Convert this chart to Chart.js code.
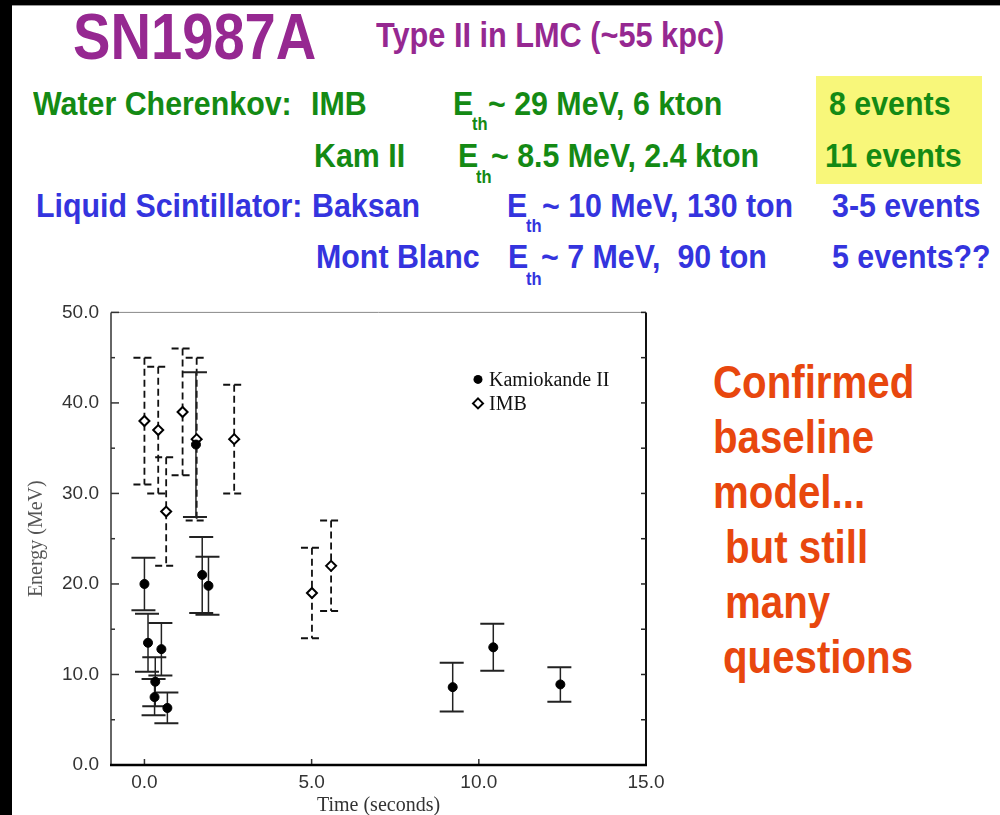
<!DOCTYPE html>
<html>
<head>
<meta charset="utf-8">
<script src="https://cdn.jsdelivr.net/npm/chart.js@4"></script>
<style>
  html, body { margin: 0; padding: 0; }
  body { width: 1000px; height: 815px; overflow: hidden; background: #fff; position: relative; }
  .bar-left { position: absolute; left: 0; top: 0; width: 12px; height: 815px; background: #000; z-index: 5; }
  .bar-top { position: absolute; left: 0; top: 0; width: 1000px; height: 5px; background: #000; border-bottom: 1px solid #999; z-index: 5; }
  .t { position: absolute; white-space: pre; line-height: 1; font-family: 'Liberation Sans', Arial, sans-serif; font-weight: bold; transform-origin: 0 0; }
  .big { transform: scaleX(0.877); }
  .row { font-size: 33px; transform: scaleX(0.92); }
  .sub { font-size: 18px; transform: scaleX(0.92); }
  .purple { color: #962891; }
  .green { color: #148a14; }
  .blue { color: #3434de; }
  .orange { color: #e8470e; font-size: 46px; transform: scaleX(0.875); }
  .hl { position: absolute; left: 816px; top: 76px; width: 166px; height: 108px; background: #f8f77a; }
  #wrap { position: absolute; left: 12px; top: 289px; width: 668px; height: 541px; }
</style>
</head>
<body>
<div class="bar-top"></div>
<div class="bar-left"></div>

<!-- header -->
<span class="t big purple" style="left:73px;top:5px;font-size:64px">SN1987A</span>
<span class="t big purple" style="left:376px;top:17px;font-size:35px">Type II in LMC (~55 kpc)</span>

<div class="hl"></div>

<span class="t row green" style="left:33px;top:87px">Water Cherenkov:</span>
<span class="t row green" style="left:311px;top:87px">IMB</span>
<span class="t row green" style="left:453px;top:87px">E</span>
<span class="t sub green" style="left:472px;top:115px">th</span>
<span class="t row green" style="left:488px;top:87px">~ 29 MeV, 6 kton</span>
<span class="t row green" style="left:829px;top:87px">8 events</span>

<span class="t row green" style="left:314px;top:139px">Kam II</span>
<span class="t row green" style="left:458px;top:139px">E</span>
<span class="t sub green" style="left:476px;top:168px">th</span>
<span class="t row green" style="left:491px;top:139px">~ 8.5 MeV, 2.4 kton</span>
<span class="t row green" style="left:825px;top:139px">11 events</span>

<span class="t row blue" style="left:36px;top:189px">Liquid Scintillator:</span>
<span class="t row blue" style="left:312px;top:189px">Baksan</span>
<span class="t row blue" style="left:507px;top:189px">E</span>
<span class="t sub blue" style="left:526px;top:217px">th</span>
<span class="t row blue" style="left:542px;top:189px">~ 10 MeV, 130 ton</span>
<span class="t row blue" style="left:832px;top:189px">3-5 events</span>

<span class="t row blue" style="left:316px;top:240px">Mont Blanc</span>
<span class="t row blue" style="left:508px;top:240px">E</span>
<span class="t sub blue" style="left:526px;top:270px">th</span>
<span class="t row blue" style="left:541px;top:240px">~ 7 MeV,  90 ton</span>
<span class="t row blue" style="left:832px;top:240px">5 events??</span>

<!-- comment on the right -->
<span class="t orange" style="left:713px;top:359px">Confirmed</span>
<span class="t orange" style="left:713px;top:414px">baseline</span>
<span class="t orange" style="left:713px;top:469px">model...</span>
<span class="t orange" style="left:725px;top:524px">but still</span>
<span class="t orange" style="left:725px;top:579px">many</span>
<span class="t orange" style="left:723px;top:634px">questions</span>

<div id="wrap"><canvas id="chart"></canvas></div>

<script>
// ---- data (time in s, energy and 1-sigma error in MeV) ----------------
const KAM_T   = [0.000, 0.107, 0.303, 0.324, 0.507, 0.686, 1.541, 1.728, 1.915, 9.219, 10.433, 12.439];
const KAM_E   = [20.0, 13.5, 7.5, 9.2, 12.8, 6.3, 35.4, 21.0, 19.8, 8.6, 13.0, 8.9];
const KAM_ERR = [2.9, 3.2, 2.0, 2.7, 2.9, 1.7, 8.0, 4.2, 3.2, 2.7, 2.6, 1.9];

const IMB_T   = [0.000, 0.412, 0.650, 1.141, 1.562, 2.684, 5.010, 5.582];
const IMB_E   = [38, 37, 28, 39, 36, 36, 19, 22];
const IMB_ERR = [7, 7, 6, 7, 9, 6, 5, 5];

const X_TICKS = [0, 5, 10, 15];
const Y_TICKS = [0, 10, 20, 30, 40, 50];
const Y_MINOR = [5, 15, 25, 35, 45];

const LABELS = ['Kamiokande II', 'IMB'];

// ---- error bars ---------------------------------------------------------
const errorBars = {
    id: 'errorBars',
    beforeDatasetsDraw(chart) {
        const { ctx, scales: { x, y } } = chart;
        const draw = (ts, es, errs, dashed, cap) => {
            ctx.save();
            ctx.strokeStyle = dashed ? '#111' : '#222';
            ctx.setLineDash(dashed ? [7, 4] : []);
            ts.forEach((t, i) => {
                const px = x.getPixelForValue(t);
                const top = y.getPixelForValue(es[i] + errs[i]);
                const bot = y.getPixelForValue(es[i] - errs[i]);
                ctx.lineWidth = dashed ? 1.8 : 1.5;
                ctx.beginPath();
                ctx.moveTo(px, top);
                ctx.lineTo(px, bot);
                ctx.stroke();
                ctx.lineWidth = 2;
                ctx.beginPath();
                ctx.moveTo(px - cap / 2 - 1, top); ctx.lineTo(px + cap / 2 - 1, top);
                ctx.moveTo(px - cap / 2 - 1, bot); ctx.lineTo(px + cap / 2 - 1, bot);
                ctx.stroke();
            });
            ctx.restore();
        };
        draw(IMB_T, IMB_E, IMB_ERR, true, 20);
        draw(KAM_T, KAM_E, KAM_ERR, false, 24);
    }
};

// ---- frame, inside ticks, legend ---------------------------------------
const frame = {
    id: 'frame',
    afterDraw(chart) {
        const { ctx, chartArea: a, scales: { x, y } } = chart;
        ctx.save();
        const line = (x1, y1, x2, y2, w, c) => {
            ctx.lineWidth = w; ctx.strokeStyle = c;
            ctx.beginPath(); ctx.moveTo(x1, y1); ctx.lineTo(x2, y2); ctx.stroke();
        };
        line(a.left, a.top, a.right, a.top, 1, '#888');
        line(a.left, a.top, a.left, a.bottom, 1.5, '#333');
        line(a.right, a.top, a.right, a.bottom, 2, '#111');
        Y_TICKS.forEach(v => {
            const py = y.getPixelForValue(v);
            line(a.left, py, a.left + 8, py, 1.5, '#333');
            line(a.right, py, a.right - 5, py, 1.5, '#222');
        });
        Y_MINOR.forEach(v => {
            const py = y.getPixelForValue(v);
            line(a.left, py, a.left + 4, py, 1.5, '#333');
            line(a.right, py, a.right - 5, py, 1.5, '#222');
        });
        X_TICKS.slice(0, -1).forEach(v => {
            const px = x.getPixelForValue(v);
            line(px, a.bottom, px, a.bottom - 6, 1.5, '#333');
        });
        line(a.left - 1, a.bottom, a.right + 1, a.bottom, 2.5, '#000');

        // legend in the upper right corner
        const lx = a.right - 168;
        const ly = a.top + 67;
        ctx.setLineDash([]);
        ctx.fillStyle = '#000';
        ctx.beginPath(); ctx.arc(lx, ly, 4.5, 0, Math.PI * 2); ctx.fill();
        ctx.fillStyle = '#fff'; ctx.strokeStyle = '#000'; ctx.lineWidth = 2;
        ctx.beginPath();
        ctx.moveTo(lx, ly + 24 - 5); ctx.lineTo(lx + 5, ly + 24); ctx.lineTo(lx, ly + 24 + 5); ctx.lineTo(lx - 5, ly + 24);
        ctx.closePath(); ctx.fill(); ctx.stroke();
        ctx.fillStyle = '#111';
        ctx.font = "20px 'Liberation Serif', 'Times New Roman', serif";
        ctx.textBaseline = 'middle';
        ctx.fillText(LABELS[0], lx + 11, ly + 1);
        ctx.fillText(LABELS[1], lx + 11, ly + 25);
        ctx.restore();
    }
};

const tickFont = { family: "'Liberation Sans', Arial, sans-serif", size: 19 };
const titleFont = { family: "'Liberation Serif', 'Times New Roman', serif", size: 20 };

new Chart(document.getElementById('chart'), {
    type: 'scatter',
    data: {
        datasets: [
            {
                label: LABELS[0],
                data: KAM_T.map((t, i) => ({ x: t, y: KAM_E[i] })),
                pointStyle: 'circle',
                pointRadius: 4.5,
                backgroundColor: '#000',
                borderColor: '#000',
                borderWidth: 1,
            },
            {
                label: LABELS[1],
                data: IMB_T.map((t, i) => ({ x: t, y: IMB_E[i] })),
                pointStyle: 'rectRot',
                pointRadius: 5,
                backgroundColor: '#fff',
                borderColor: '#000',
                borderWidth: 2,
            }
        ]
    },
    options: {
        responsive: true,
        maintainAspectRatio: false,
        animation: false,
        layout: { padding: { top: 12, right: 34, left: 0, bottom: 0 } },
        plugins: { legend: { display: false }, tooltip: { enabled: false } },
        scales: {
            x: {
                type: 'linear',
                min: -1,
                max: 15,
                grid: { display: false, drawTicks: false },
                border: { display: false },
                afterBuildTicks: s => { s.ticks = X_TICKS.map(v => ({ value: v })); },
                afterFit: s => { s.height = 65; },
                ticks: { font: tickFont, color: '#333', padding: 6, maxRotation: 0, callback: v => v.toFixed(1) },
                title: { display: true, text: 'Time (seconds)', font: titleFont, color: '#333', padding: { top: 0, bottom: 12 } },
            },
            y: {
                min: 0,
                max: 50,
                grid: { display: false, drawTicks: false },
                border: { display: false },
                afterBuildTicks: s => { s.ticks = Y_TICKS.map(v => ({ value: v })); },
                afterFit: s => { s.width = 99; },
                ticks: { font: tickFont, color: '#333', padding: 12, callback: v => v.toFixed(1) },
                title: { display: true, text: 'Energy (MeV)', font: titleFont, color: '#555', padding: { top: 13, bottom: 0 } },
            }
        }
    },
    plugins: [errorBars, frame]
});
</script>
</body>
</html>
